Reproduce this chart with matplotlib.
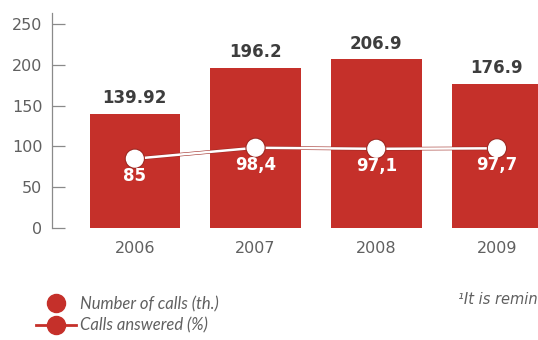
import matplotlib.pyplot as plt
import matplotlib.patheffects as pe
from matplotlib.lines import Line2D
import numpy as np

years = ['2006', '2007', '2008', '2009']
calls = [139.92, 196.2, 206.9, 176.9]          # number of calls (th.)
calls_labels = ['139.92', '196.2', '206.9', '176.9']
answered = [85, 98.4, 97.1, 97.7]              # calls answered (%)
answered_labels = ['85', '98,4', '97,1', '97,7']

RED = '#c5302a'
GREY = '#606060'

plt.rcParams['font.family'] = ['DejaVu Sans']

fig = plt.figure(figsize=(5.38, 3.40), dpi=100)
ax = fig.add_axes([0.0967, 0.329, 0.9033, 0.632])

x = np.arange(len(years))
ax.bar(x, calls, width=0.75, color=RED, zorder=2)

# answered calls line: white, thin darker edge where it crosses the gaps
ax.plot(x, answered, color='white', lw=1.8, marker='o', ms=12,
        mfc='white', mec='white', zorder=3,
        path_effects=[pe.Stroke(linewidth=2.6, foreground='#9e2a24'), pe.Normal()])

for xi, v, lab in zip(x, calls, calls_labels):
    ax.text(xi, v + 8, lab, ha='center', va='bottom', fontsize=12,
            fontweight='bold', color='#3d3d3d')

for xi, v, lab in zip(x, answered, answered_labels):
    ax.text(xi, v - 10, lab, ha='center', va='top', fontsize=12,
            fontweight='bold', color='white', zorder=4)

ax.set_xlim(-0.686, 3.34)
ax.set_ylim(0, 263)
ax.set_yticks([0, 50, 100, 150, 200, 250])
ax.set_xticks(x)
ax.set_xticklabels(years)

for s in ['top', 'right', 'bottom']:
    ax.spines[s].set_visible(False)
ax.spines['left'].set_color('#8a8a8a')
ax.spines['left'].set_linewidth(0.9)
ax.tick_params(axis='y', direction='in', length=9, width=0.9, color='#8a8a8a',
               pad=7, labelsize=11.5, labelcolor=GREY)
ax.tick_params(axis='x', length=0, pad=9, labelsize=11.5, labelcolor=GREY)

handles = [
    Line2D([], [], marker='o', color='none', mfc=RED, mec=RED, ms=13),
    Line2D([], [], marker='o', color=RED, lw=2, mfc=RED, mec=RED, ms=13),
]
fig.legend(handles, ['Number of calls (th.)', 'Calls answered (%)'],
           loc='upper left', bbox_to_anchor=(0.066, 0.129), frameon=False,
           handlelength=2.4, handletextpad=0.25, labelspacing=0.3,
           borderaxespad=0, borderpad=0,
           prop={'family': 'Lato', 'style': 'italic', 'size': 12},
           labelcolor=GREY)

fig.text(0.999, 0.118, '\u00b9It is remin', fontsize=10.5, style='italic',
         color=GREY, ha='right', va='center')

fig.savefig('out.png', dpi=100)
